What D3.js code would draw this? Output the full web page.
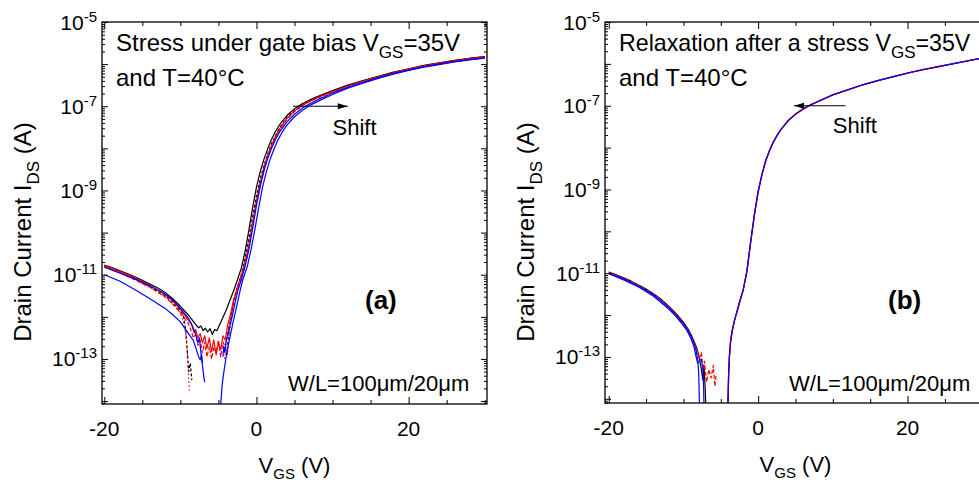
<!DOCTYPE html>
<html><head><meta charset="utf-8">
<script src="https://cdn.jsdelivr.net/npm/d3@7"></script>
<style>
body{margin:0;background:#fff}
svg{display:block}
text{font-family:"Liberation Sans",Arial,Helvetica,sans-serif;fill:#000}
</style>
</head><body>
<svg id="c" width="979" height="484"></svg>
<script>
// ---------- DATA: [V_GS (V), log10(I_DS / A)] ----------
const xTicksMajor = [-20, 0, 20];
const xTicksMinor = [-15, -10, -5, 5, 10, 15, 25, 30];
const xTickLabels = ["-20", "0", "20"];
const yLabelExps = [-5, -7, -9, -11, -13];

// Panel (a): stress
const aBlack = [[-20,-10.77],[-19,-10.83],[-18,-10.9],[-17,-10.97],[-16,-11.05],[-15,-11.13],[-14,-11.22],[-13,-11.31],[-12,-11.42],[-11,-11.57],[-10,-11.75],[-9.5,-11.85],[-9,-11.95],[-8.5,-12.06],[-8,-12.18],[-7.6,-12.26],[-7.3,-12.22],[-7,-12.33],[-6.7,-12.27],[-6.4,-12.36],[-6.1,-12.28],[-5.8,-12.42],[-5.5,-12.3],[-5.2,-12.33],[-5,-12.25],[-4.5,-12.05],[-4,-11.85],[-3.5,-11.62],[-3,-11.38],[-2.5,-11.12],[-2,-10.85],[-1.5,-10.45],[-1,-9.95],[-0.5,-9.4],[0,-8.92],[0.5,-8.55],[1,-8.25],[1.5,-8.0],[2,-7.78],[2.5,-7.6],[3,-7.45],[4,-7.22],[5,-7.06],[6,-6.94],[7,-6.85],[8,-6.77],[10,-6.63],[12,-6.5],[14,-6.39],[16,-6.29],[18,-6.19],[20,-6.11],[22,-6.03],[24,-5.97],[26,-5.91],[28,-5.86],[30,-5.82]];
const aBlackDash = [[-20,-10.8],[-18,-10.94],[-16,-11.1],[-14,-11.28],[-12,-11.5],[-11,-11.65],[-10,-11.85],[-9.6,-11.98],[-9.3,-12.3],[-9.1,-12.8],[-8.9,-13.3],[-8.7,-13.1],[-8.5,-13.5],null,[-3.9,-12.9],[-3.7,-12.5],[-3.4,-12.1],[-3,-11.62],[-2.5,-11.28],[-2,-11.0],[-1.5,-10.62],[-1,-10.15],[-0.5,-9.62],[0,-9.12],[0.5,-8.72],[1,-8.4],[1.5,-8.12],[2,-7.88],[3,-7.52],[4,-7.27],[5,-7.1],[6,-6.97],[7,-6.87],[8,-6.79],[10,-6.65],[12,-6.52],[14,-6.4],[16,-6.3],[18,-6.2],[20,-6.12],[22,-6.04],[24,-5.98],[26,-5.92],[28,-5.87],[30,-5.83]];
const aRedSolid = [[-20,-10.78],[-18,-10.92],[-16,-11.07],[-14,-11.25],[-12,-11.47],[-11,-11.62],[-10,-11.82],[-9.5,-11.95],[-9,-12.07],[-8.5,-12.2],[-8.2,-12.38],[-8,-12.3],[-7.7,-12.5],[-7.4,-12.4],[-7.1,-12.62],[-6.8,-12.45],[-6.5,-12.75],[-6.2,-12.5],[-5.9,-12.82],[-5.6,-12.55],[-5.3,-12.9],[-5,-12.62],[-4.7,-12.78],[-4.4,-12.45],[-4.1,-12.55],[-3.8,-12.2],[-3.5,-12.0],[-3,-11.6],[-2.5,-11.3],[-2,-11.02],[-1.5,-10.7],[-1,-10.3],[-0.5,-9.75],[0,-9.25],[0.5,-8.8],[1,-8.45],[1.5,-8.15],[2,-7.92],[2.5,-7.72],[3,-7.55],[4,-7.29],[5,-7.11],[6,-6.98],[7,-6.88],[8,-6.8],[10,-6.65],[12,-6.52],[14,-6.4],[16,-6.3],[18,-6.2],[20,-6.12],[22,-6.04],[24,-5.98],[26,-5.92],[28,-5.87],[30,-5.83]];
const aRedDash = [[-20,-10.8],[-18,-10.95],[-16,-11.12],[-14,-11.3],[-12,-11.53],[-11,-11.7],[-10,-11.9],[-9.5,-12.02],[-9,-12.15],[-8.6,-12.32],[-8.3,-12.5],[-8,-12.42],[-7.7,-12.68],[-7.4,-12.55],[-7.1,-12.85],[-6.8,-12.6],[-6.5,-12.95],[-6.2,-12.7],[-5.9,-13.0],[-5.6,-12.72],[-5.3,-12.85],[-5,-12.55],[-4.7,-12.95],[-4.4,-12.6],[-4.1,-12.72],[-3.8,-12.35],[-3.5,-12.12],[-3,-11.7],[-2.5,-11.38],[-2,-11.1],[-1.5,-10.78],[-1,-10.4],[-0.5,-9.85],[0,-9.35],[0.5,-8.88],[1,-8.5],[1.5,-8.2],[2,-7.96],[2.5,-7.76],[3,-7.58],[4,-7.31],[5,-7.13],[6,-6.99],[7,-6.89],[8,-6.81],[10,-6.66],[12,-6.53],[14,-6.41],[16,-6.31],[18,-6.21],[20,-6.13],[22,-6.05],[24,-5.99],[26,-5.93],[28,-5.88],[30,-5.84]];
const aRedDot = [[-20,-10.8],[-17,-11.02],[-14,-11.3],[-12,-11.52],[-10.5,-11.78],[-10,-11.92],[-9.6,-12.1],[-9.3,-12.4],[-9.1,-12.8],[-9,-13.2],[-8.9,-13.55],[-8.8,-13.75],null,[-4.2,-13.0],[-4.0,-12.75],[-3.8,-12.9],[-3.6,-12.4],[-3.3,-12.05]];
const aBlue1 = [[-20,-10.82],[-18,-10.96],[-16,-11.1],[-14,-11.26],[-12,-11.46],[-11,-11.6],[-10,-11.8],[-9,-12.02],[-8.5,-12.18],[-8,-12.4],[-7.7,-12.62],[-7.5,-12.5],[-7.3,-12.85],[-7.1,-13.15],[-6.9,-13.45],[-6.8,-13.55],null,[-4.75,-14.2],[-4.5,-13.6],[-4.2,-13.2],[-3.9,-12.86],[-3.5,-12.5],[-3.1,-12.15],[-2.6,-11.75],[-2.2,-11.42],[-1.8,-11.12],[-1.2,-10.8],[-0.7,-10.4],[-0.2,-9.92],[0.3,-9.4],[0.8,-8.92],[1.3,-8.56],[1.8,-8.26],[2.3,-8.02],[2.8,-7.81],[3.3,-7.64],[4,-7.45],[5,-7.25],[6,-7.1],[7,-6.98],[8,-6.89],[10,-6.72],[12,-6.57],[14,-6.45],[16,-6.34],[18,-6.24],[20,-6.15],[22,-6.07],[24,-6.01],[26,-5.95],[28,-5.9],[30,-5.86]];
const aBlue2 = [[-20,-11.0],[-18,-11.15],[-16,-11.35],[-14,-11.57],[-12,-11.8],[-11,-11.95],[-10,-12.12],[-9,-12.38],[-8.3,-12.56],[-7.9,-12.78],[-7.6,-12.95],[-7.4,-13.02],[-7.2,-12.9],[-7.1,-13.1],null,[-4.4,-12.95],[-4.3,-12.7],[-4.15,-12.85],[-4,-12.6],[-3.6,-12.3],[-3.2,-12.0],[-2.8,-11.65],[-2.4,-11.35],[-2,-11.12],[-1.5,-10.8],[-1,-10.4],[-0.5,-9.9],[0,-9.35],[0.5,-8.9],[1,-8.52],[1.5,-8.23],[2,-7.99],[2.5,-7.79],[3,-7.62],[4,-7.37],[5,-7.19],[6,-7.05],[7,-6.94],[8,-6.85],[10,-6.69],[12,-6.55],[14,-6.43],[16,-6.32],[18,-6.22],[20,-6.14],[22,-6.06],[24,-6.0],[26,-5.94],[28,-5.89],[30,-5.85]];

// Panel (b): relaxation
const bRight = [[-4.05,-14.2],[-3.95,-13.4],[-3.85,-13.0],[-3.7,-12.65],[-3.5,-12.4],[-3.2,-12.15],[-2.9,-11.96],[-2.5,-11.7],[-2,-11.4],[-1.5,-10.95],[-1,-10.25],[-0.5,-9.6],[0,-9.05],[0.5,-8.65],[1,-8.32],[1.5,-8.08],[2,-7.88],[2.5,-7.72],[3,-7.58],[4,-7.36],[5,-7.2],[6,-7.08],[7,-6.98],[8,-6.9],[10,-6.74],[12,-6.62],[14,-6.5],[16,-6.4],[18,-6.31],[20,-6.22],[22,-6.14],[24,-6.07],[26,-6.0],[28,-5.93],[30,-5.86]];
const bLeftBlack = [[-20,-10.97],[-19,-11.04],[-18,-11.11],[-17,-11.19],[-16,-11.28],[-15,-11.38],[-14,-11.49],[-13,-11.62],[-12,-11.78],[-11,-11.96],[-10,-12.17],[-9.5,-12.3],[-9,-12.46],[-8.6,-12.62],[-8.2,-12.8],[-7.9,-13.0],[-7.6,-13.3],[-7.4,-13.55],[-7.25,-13.2],[-7.1,-13.7],[-7.0,-14.2]];
const bLeftRed = [[-20,-10.98],[-19,-11.05],[-18,-11.12],[-17,-11.2],[-16,-11.29],[-15,-11.39],[-14,-11.5],[-13,-11.63],[-12,-11.79],[-11,-11.97],[-10,-12.18],[-9.5,-12.31],[-9,-12.47],[-8.6,-12.63],[-8.2,-12.82],[-7.9,-13.05],[-7.6,-12.9],[-7.4,-13.3],[-7.2,-13.1],[-6.9,-13.6],[-6.6,-13.3],[-6.3,-13.5],[-6.0,-13.2],[-5.8,-13.7],[-5.6,-13.4]];
const bLeftBlue1 = [[-20,-11.0],[-19,-11.07],[-18,-11.14],[-17,-11.22],[-16,-11.31],[-15,-11.41],[-14,-11.52],[-13,-11.66],[-12,-11.82],[-11,-12.0],[-10,-12.21],[-9.5,-12.34],[-9,-12.5],[-8.6,-12.67],[-8.3,-12.85],[-8.1,-13.05],[-7.95,-13.4],[-7.85,-14.2]];
const bLeftBlue2 = [[-20,-11.01],[-18,-11.16],[-16,-11.33],[-14,-11.55],[-12,-11.85],[-11,-12.03],[-10,-12.25],[-9.5,-12.38],[-9,-12.56],[-8.6,-12.75],[-8.3,-13.0],[-8.1,-13.15],[-7.9,-13.1],[-7.6,-13.05],[-7.4,-13.3],[-7.3,-13.7],[-7.25,-14.2]];

// ---------- DRAWING ----------
const svg = d3.select("#c");
const FONT = 21;

function sup(sel, base, s, size, dy){
  sel.text(base);
  sel.append("tspan").attr("dy", -dy).attr("font-size", size).text(s);
}

function drawPanel(cfg){
  const x = d3.scaleLinear().domain(cfg.xd).range([cfg.left, cfg.right]);
  const y = d3.scaleLog().domain([Math.pow(10, cfg.yd[0]), Math.pow(10, cfg.yd[1])]).range([cfg.bottom, cfg.top]);
  const g = svg.append("g");

  svg.append("clipPath").attr("id", "clip" + cfg.id)
    .append("rect").attr("x", cfg.left).attr("y", cfg.top)
    .attr("width", cfg.right - cfg.left).attr("height", cfg.bottom - cfg.top);

  const line = d3.line().defined(d => d != null)
    .x(d => x(d[0])).y(d => y(Math.pow(10, d[1])));

  const cg = g.append("g").attr("clip-path", `url(#clip${cfg.id})`);
  cfg.series.forEach(s => {
    cg.append("path").attr("d", line(s.data)).attr("fill", "none")
      .attr("stroke", s.color).attr("stroke-width", s.w || 1.2)
      .attr("stroke-dasharray", s.dash || null)
      .attr("stroke-linejoin", "round");
  });

  // ticks
  const majY = d3.range(-14, -4).map(e => Math.pow(10, e));
  const minY = [];
  for (let e = -15; e < -5; e++) for (let m = 2; m <= 9; m++) {
    const v = m * Math.pow(10, e);
    if (Math.log10(v) > cfg.yd[0] && Math.log10(v) < cfg.yd[1]) minY.push(v);
  }
  const addAxis = (axis, tr) => {
    const a = g.append("g").attr("transform", tr).call(axis);
    a.select(".domain").remove();
    a.selectAll("line").attr("stroke", "#000").attr("stroke-width", 1);
    a.selectAll("text").remove();
  };
  addAxis(d3.axisLeft(y).tickValues(majY).tickSize(-6).tickFormat(""), `translate(${cfg.left},0)`);
  addAxis(d3.axisLeft(y).tickValues(minY).tickSize(-3).tickFormat(""), `translate(${cfg.left},0)`);
  addAxis(d3.axisRight(y).tickValues(majY).tickSize(-6).tickFormat(""), `translate(${cfg.right},0)`);
  addAxis(d3.axisRight(y).tickValues(minY).tickSize(-3).tickFormat(""), `translate(${cfg.right},0)`);
  addAxis(d3.axisBottom(x).tickValues(xTicksMajor).tickSize(-7).tickFormat(""), `translate(0,${cfg.bottom})`);
  addAxis(d3.axisBottom(x).tickValues(xTicksMinor).tickSize(-4).tickFormat(""), `translate(0,${cfg.bottom})`);
  addAxis(d3.axisTop(x).tickValues(xTicksMajor).tickSize(-7).tickFormat(""), `translate(0,${cfg.top})`);
  addAxis(d3.axisTop(x).tickValues(xTicksMinor).tickSize(-4).tickFormat(""), `translate(0,${cfg.top})`);

  g.append("rect").attr("x", cfg.left).attr("y", cfg.top)
    .attr("width", cfg.right - cfg.left).attr("height", cfg.bottom - cfg.top)
    .attr("fill", "none").attr("stroke", "#000").attr("stroke-width", 1.3);

  // y labels
  yLabelExps.forEach(e => {
    const t = g.append("text").attr("x", cfg.left - 5).attr("y", y(Math.pow(10, e)) + 7.5)
      .attr("text-anchor", "end").attr("font-size", FONT);
    sup(t, "10", String(e), 15, 8);
  });
  // x labels
  xTicksMajor.forEach((v, i) => {
    g.append("text").attr("x", x(v)).attr("y", cfg.bottom + 32)
      .attr("text-anchor", "middle").attr("font-size", FONT).text(xTickLabels[i]);
  });

  // x title
  const xt = g.append("text").attr("x", (cfg.left + cfg.right) / 2).attr("y", cfg.bottom + 69)
    .attr("text-anchor", "middle").attr("font-size", 22);
  xt.append("tspan").text("V");
  xt.append("tspan").attr("dy", 6).attr("font-size", 15).text("GS");
  xt.append("tspan").attr("dy", -6).text(" (V)");

  // y title
  const yt = g.append("text").attr("transform", `translate(${cfg.left - 71},${cfg.ytitleY}) rotate(-90)`)
    .attr("text-anchor", "middle").attr("font-size", 24);
  yt.append("tspan").text("Drain Current I");
  yt.append("tspan").attr("dy", 8).attr("font-size", 17).text("DS");
  yt.append("tspan").attr("dy", -8).text(" (A)");

  // annotation
  const t1 = g.append("text").attr("x", cfg.left + 14).attr("y", 51).attr("font-size", cfg.titleSize);
  t1.append("tspan").text(cfg.title + " V");
  t1.append("tspan").attr("dy", 7).attr("font-size", 17).text("GS");
  t1.append("tspan").attr("dy", -7).text("=35V");
  g.append("text").attr("x", cfg.left + 14).attr("y", 86).attr("font-size", 24).text("and T=40°C");

  // shift arrow
  const ay = y(1e-7);
  const x0 = x(cfg.arrow[0]), x1 = x(cfg.arrow[1]);
  g.append("line").attr("x1", x0).attr("x2", x1).attr("y1", ay).attr("y2", ay)
    .attr("stroke", "#000").attr("stroke-width", 1);
  const dir = Math.sign(x1 - x0);
  g.append("path").attr("d", `M${x1},${ay} L${x1 - dir * 10},${ay - 3} L${x1 - dir * 10},${ay + 3} Z`).attr("fill", "#000");
  g.append("text").attr("x", x(10)).attr("y", cfg.shiftY).attr("font-size", 22).text("Shift");

  g.append("text").attr("x", cfg.labelX).attr("y", 309).attr("font-size", 26)
    .attr("font-weight", "bold").text(cfg.label);
  g.append("text").attr("x", cfg.wlX).attr("y", 391).attr("font-size", 22).text("W/L=100μm/20μm");
}

drawPanel({
  id: "a", left: 102, right: 487, top: 22, bottom: 404, xd: [-20.3, 30.3], yd: [-14.07, -5],
  ytitleY: 232, title: "Stress under gate bias", titleSize: 24, arrow: [4.8, 12], shiftY: 135,
  label: "(a)", labelX: 365, wlX: 288,
  series: [
    {data: aBlack, color: "#000"},
    {data: aBlackDash, color: "#000", dash: "3,2"},
    {data: aRedSolid, color: "#ff0000"},
    {data: aRedDash, color: "#ff0000", dash: "4,2"},
    {data: aRedDot, color: "#ff0000", dash: "1.5,2.5"},
    {data: aBlue2, color: "#0000ff"},
    {data: aBlue1, color: "#0000ff"}
  ]
});
drawPanel({
  id: "b", left: 605, right: 986, top: 22, bottom: 403, xd: [-20.5, 30.5], yd: [-14.1, -5],
  ytitleY: 232, title: "Relaxation after a stress", titleSize: 23.2, arrow: [11.7, 4.8], shiftY: 133,
  label: "(b)", labelX: 888, wlX: 789,
  series: [
    {data: bLeftBlack, color: "#000"},
    {data: bRight, color: "#000"},
    {data: bLeftRed, color: "#ff0000", dash: "4,2"},
    {data: bRight, color: "#ff0000", w: 1.4},
    {data: bLeftBlue2, color: "#0000ff"},
    {data: bLeftBlue1, color: "#0000ff"},
    {data: bRight, color: "#0000ff", w: 1.1}
  ]
});
</script>
</body></html>
